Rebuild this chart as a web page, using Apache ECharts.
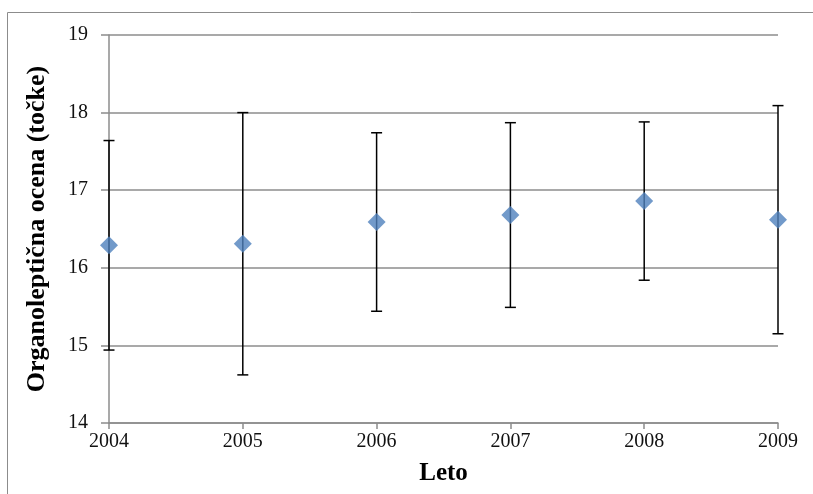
<!DOCTYPE html>
<html>
<head>
<meta charset="utf-8">
<script src="https://cdn.jsdelivr.net/npm/echarts@6/dist/echarts.min.js"></script>
<style>
  html, body { margin: 0; padding: 0; background: #fff; }
  #chart { width: 813px; height: 494px; }
</style>
</head>
<body>
<div id="chart"></div>
<script>
// Yearly mean organoleptic score with standard deviation
const years = [2004, 2005, 2006, 2007, 2008, 2009];
const means = [16.29, 16.31, 16.59, 16.68, 16.86, 16.62];
const deviations = [1.35, 1.69, 1.15, 1.19, 1.02, 1.47];
const yTicks = [14, 15, 16, 17, 18, 19];

const serif = '"Liberation Serif", "Times New Roman", serif';
const pointData = years.map((y, i) => [y, means[i]]);
const errorData = years.map((y, i) => [y, means[i] - deviations[i], means[i] + deviations[i]]);

const chart = echarts.init(document.getElementById('chart'));
chart.setOption({
  animation: false,
  graphic: [{
    type: 'rect',
    shape: { x: 7.5, y: 12.5, width: 830, height: 500 },
    style: { fill: 'none', stroke: '#8c8c8c', lineWidth: 1 },
    silent: true
  }],
  grid: { left: 109, right: 35, top: 35, bottom: 71 },
  xAxis: {
    type: 'value',
    min: years[0],
    max: years[years.length - 1],
    interval: 1,
    name: 'Leto',
    nameLocation: 'middle',
    nameGap: 38,
    nameTextStyle: { fontFamily: serif, fontSize: 25, fontWeight: 'bold', color: '#000' },
    axisLine: { show: true, lineStyle: { color: '#8c8c8c', width: 1.5 } },
    axisTick: { show: true, length: 6, lineStyle: { color: '#8c8c8c', width: 1.5 } },
    axisLabel: { fontFamily: serif, fontSize: 20, color: '#111', margin: 9, formatter: v => String(v) },
    splitLine: { show: false }
  },
  yAxis: {
    type: 'value',
    min: yTicks[0],
    max: yTicks[yTicks.length - 1],
    interval: 1,
    name: 'Organoleptična ocena (točke)',
    nameLocation: 'middle',
    nameGap: 59,
    nameTextStyle: { fontFamily: serif, fontSize: 26, fontWeight: 'bold', color: '#000' },
    axisLine: { show: true, lineStyle: { color: '#8c8c8c', width: 1.5 } },
    axisTick: { show: true, length: 8, lineStyle: { color: '#8c8c8c', width: 1.5 } },
    axisLabel: { fontFamily: serif, fontSize: 20, color: '#111', margin: 21 },
    splitLine: { show: true, lineStyle: { color: '#8c8c8c', width: 1.5 } }
  },
  series: [
    {
      type: 'custom',
      data: errorData,
      z: 2,
      renderItem: function (params, api) {
        const x = api.value(0);
        const lo = api.coord([x, api.value(1)]);
        const hi = api.coord([x, api.value(2)]);
        const cap = 5.5;
        const style = { stroke: '#000', lineWidth: 1.5, fill: 'none' };
        return {
          type: 'group',
          children: [
            { type: 'line', shape: { x1: hi[0], y1: hi[1], x2: lo[0], y2: lo[1] }, style },
            { type: 'line', shape: { x1: hi[0] - cap, y1: hi[1], x2: hi[0] + cap, y2: hi[1] }, style },
            { type: 'line', shape: { x1: lo[0] - cap, y1: lo[1], x2: lo[0] + cap, y2: lo[1] }, style }
          ]
        };
      }
    },
    {
      type: 'scatter',
      data: pointData,
      symbol: 'diamond',
      symbolSize: [18, 18],
      z: 3,
      itemStyle: { color: '#4F81BD' }
    }
  ]
});
</script>
</body>
</html>
